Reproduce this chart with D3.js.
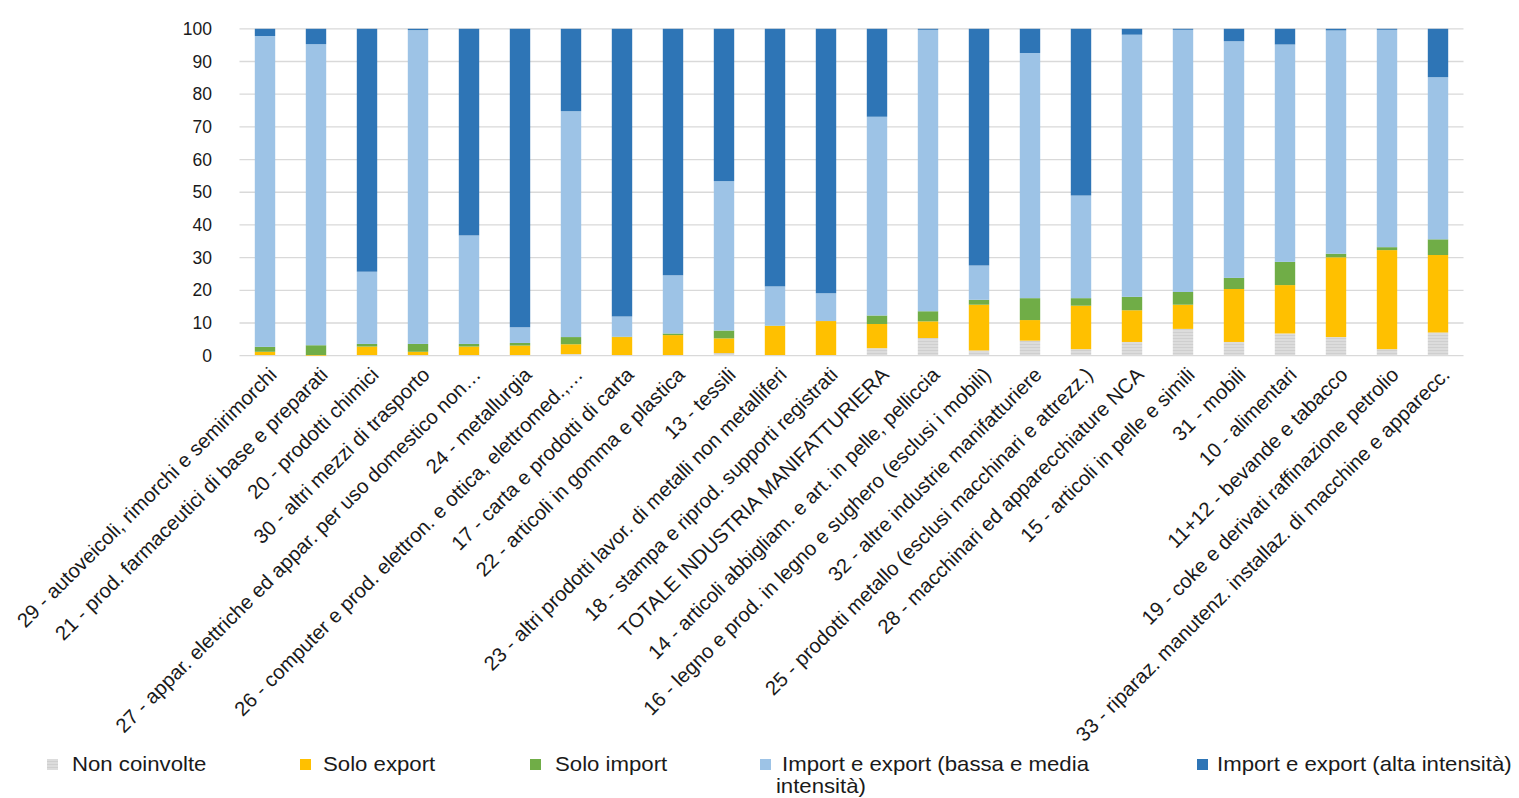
<!DOCTYPE html>
<html lang="it">
<head>
<meta charset="utf-8">
<script src="https://cdn.jsdelivr.net/npm/d3@7"></script>
<style>
  html, body { margin: 0; padding: 0; background: #fff; }
  svg { display: block; font-family: "Liberation Sans", Arial, sans-serif; }
</style>
</head>
<body>
<svg id="chart" width="1519" height="798"></svg>
<script>
// Settori manifatturieri
const categories = [
  "29 - autoveicoli, rimorchi e semirimorchi",
  "21 - prod. farmaceutici di base e preparati",
  "20 - prodotti chimici",
  "30 - altri mezzi di trasporto",
  "27 - appar. elettriche ed appar. per uso domestico non…",
  "24 - metallurgia",
  "26 - computer e prod. elettron. e ottica, elettromed.,…",
  "17 - carta e prodotti di carta",
  "22 -  articoli in gomma e plastica",
  "13 - tessili",
  "23 - altri prodotti lavor. di metalli non metalliferi",
  "18 - stampa e riprod. supporti registrati",
  "TOTALE INDUSTRIA MANIFATTURIERA",
  "14 - articoli abbigliam. e art. in pelle, pelliccia",
  "16 - legno e prod. in legno e sughero (esclusi i mobili)",
  "32 - altre industrie manifatturiere",
  "25 - prodotti metallo (esclusi macchinari e attrezz.)",
  "28 - macchinari ed apparecchiature NCA",
  "15 - articoli in pelle e simili",
  "31 - mobili",
  "10 - alimentari",
  "11+12 - bevande e tabacco",
  "19 - coke e derivati raffinazione petrolio",
  "33 - riparaz. manutenz. installaz. di macchine e apparecc."
];

// Quote percentuali per tipologia di impresa
const nonCoinvolte = [0.2, 0.0, 0.2, 0.2, 0.2, 0.2, 0.5, 0.2, 0.2, 0.8, 0.2, 0.2, 2.3, 5.4, 1.6, 4.6, 2.0, 4.2, 8.2, 4.2, 6.8, 5.7, 2.0, 7.1];
const soloExport   = [1.0, 0.2, 2.6, 1.0, 2.6, 2.9, 3.0, 5.5, 6.1, 4.5, 8.9, 10.4, 7.4, 5.1, 14.0, 6.3, 13.3, 9.7, 7.4, 16.2, 14.8, 24.4, 30.3, 23.7];
const soloImport   = [1.5, 3.0, 0.8, 2.4, 0.8, 0.8, 2.2, 0.1, 0.5, 2.4, 0.1, 0.0, 2.6, 3.1, 1.5, 6.7, 2.3, 4.1, 3.9, 3.4, 7.1, 1.1, 0.9, 4.8];
const ieBassaMedia = [95.1, 92.1, 22.1, 96.0, 33.2, 4.8, 69.1, 6.2, 17.8, 45.7, 12.0, 8.5, 60.8, 86.1, 10.5, 75.0, 31.4, 80.2, 80.2, 72.4, 66.5, 68.3, 66.5, 49.6];
const ieAlta       = [2.2, 4.7, 74.3, 0.4, 63.2, 91.3, 25.2, 88.0, 75.4, 46.6, 78.8, 80.9, 26.9, 0.3, 72.4, 7.4, 51.0, 1.8, 0.3, 3.8, 4.8, 0.5, 0.3, 14.8];

const seriesKeys = ["nc", "se", "si", "ieb", "iea"];
const seriesNames = [
  "Non coinvolte",
  "Solo export",
  "Solo import",
  "Import e export  (bassa e media intensità)",
  "Import e export (alta intensità)"
];
const yTicks = [0, 10, 20, 30, 40, 50, 60, 70, 80, 90, 100];

const colors = {
  nc: "url(#ncPattern)",
  se: "#ffc000",
  si: "#70ad47",
  ieb: "#9dc3e6",
  iea: "#2e75b6"
};

const rows = categories.map((c, i) => ({
  cat: c,
  nc: nonCoinvolte[i],
  se: soloExport[i],
  si: soloImport[i],
  ieb: ieBassaMedia[i],
  iea: ieAlta[i]
}));

const svg = d3.select("#chart");
const W = 1519, H = 798;
const margin = { left: 239.5, right: W - 1463.5, top: 28.8, bottom: H - 355.7 };

// Texture for the "non coinvolte" segments
const defs = svg.append("defs");
const pat = defs.append("pattern")
  .attr("id", "ncPattern")
  .attr("patternUnits", "userSpaceOnUse")
  .attr("width", 4).attr("height", 3);
pat.append("rect").attr("width", 4).attr("height", 3).attr("fill", "#dcdcdc");
pat.append("rect").attr("y", 2).attr("width", 4).attr("height", 1).attr("fill", "#cfcfcf");

const x = d3.scaleBand()
  .domain(categories)
  .range([margin.left, W - margin.right])
  .paddingInner(0.6)
  .paddingOuter(0.3);

const y = d3.scaleLinear()
  .domain([0, 100])
  .range([H - margin.bottom, margin.top]);

// Gridlines
svg.append("g")
  .selectAll("line")
  .data(yTicks)
  .join("line")
  .attr("x1", margin.left)
  .attr("x2", W - margin.right)
  .attr("y1", d => y(d))
  .attr("y2", d => y(d))
  .attr("stroke", "#d9d9d9")
  .attr("stroke-width", 1.3);

// Y axis labels
const yAxis = d3.axisLeft(y).tickValues(yTicks).tickSize(0).tickPadding(0);
const yg = svg.append("g")
  .attr("transform", `translate(${212},0)`)
  .call(yAxis);
yg.select(".domain").remove();
yg.selectAll("text")
  .attr("font-size", 17.5)
  .attr("fill", "#1a1a1a")
  .attr("font-family", "Liberation Sans, Arial, sans-serif");

// Stacked bars
const stacked = d3.stack().keys(seriesKeys)(rows);

svg.append("g")
  .selectAll("g")
  .data(stacked)
  .join("g")
  .attr("fill", d => colors[d.key])
  .selectAll("rect")
  .data(d => d)
  .join("rect")
  .attr("x", d => x(d.data.cat))
  .attr("width", x.bandwidth())
  .attr("y", d => y(d[1]))
  .attr("height", d => Math.max(0, y(d[0]) - y(d[1])));

// Rotated category labels
svg.append("g")
  .selectAll("text")
  .data(categories)
  .join("text")
  .attr("transform", d => `translate(${x(d) + x.bandwidth() / 2 + 8},${371}) rotate(-45)`)
  .attr("text-anchor", "end")
  .attr("dy", "0.35em")
  .attr("font-size", 20.3)
  .attr("fill", "#1a1a1a")
  .text(d => d);

// Legend (text slightly widened horizontally)
const legendX = [47, 300, 530, 760, 1197];
const legendTextDx = [25, 23, 25, 22, 20];
const legend = svg.append("g");
seriesKeys.forEach((k, i) => {
  const g = legend.append("g").attr("transform", `translate(${legendX[i]},${759})`);
  g.append("rect")
    .attr("width", 11).attr("height", 11)
    .attr("fill", colors[k]);
  const t = g.append("text")
    .attr("transform", `translate(${legendTextDx[i]},${12}) scale(1.11,1)`)
    .attr("font-size", 20)
    .attr("fill", "#1a1a1a");
  if (k === "ieb") {
    t.append("tspan").attr("x", 0).text("Import e export  (bassa e media");
    t.append("tspan").attr("x", -5.5).attr("dy", 22.5).text("intensità)");
  } else {
    t.text(seriesNames[i]);
  }
});
</script>
</body>
</html>
